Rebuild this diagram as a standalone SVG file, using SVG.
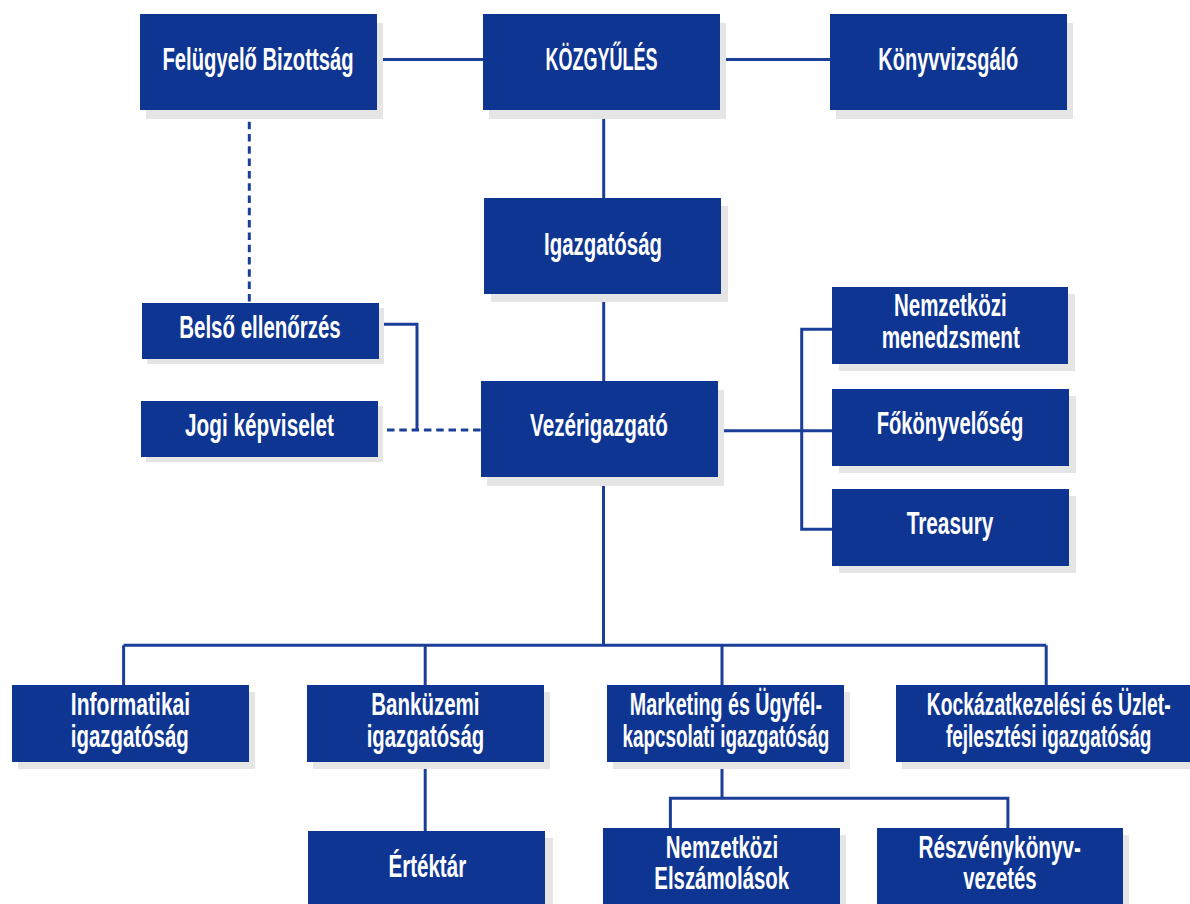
<svg xmlns="http://www.w3.org/2000/svg" width="1190" height="904" viewBox="0 0 1190 904">
<style>
.box{fill:#0e3591}
.sh{fill:#e5e5e5}
.t{font-family:"Liberation Sans Narrow","Liberation Sans","DejaVu Sans Condensed",sans-serif;font-weight:bold;font-size:31px;fill:#ffffff;text-anchor:middle}
.ln{fill:none;stroke:#1b3f98;stroke-width:3}
.dash{stroke-dasharray:7.5 4.8}
</style>
<rect width="1190" height="904" fill="#ffffff"/>
<g id="connectors">
<line class="ln" x1="377" y1="59.5" x2="483" y2="59.5"/>
<line class="ln" x1="720" y1="59.5" x2="830" y2="59.5"/>
<line class="ln" x1="603.7" y1="110" x2="603.7" y2="198"/>
<line class="ln" x1="603.7" y1="294" x2="603.7" y2="381"/>
<line class="ln dash" x1="249.3" y1="121.7" x2="249.3" y2="303"/>
<polyline class="ln" points="379,324.3 417,324.3 417,430"/>
<line class="ln dash" x1="387" y1="430" x2="481" y2="430"/>
<line class="ln" x1="718" y1="430.7" x2="832" y2="430.7"/>
<polyline class="ln" points="832,329.3 801.7,329.3 801.7,529.3 832,529.3"/>
<line class="ln" x1="603.5" y1="477" x2="603.5" y2="645.3"/>
<line class="ln" x1="123.6" y1="645.3" x2="1046.2" y2="645.3"/>
<line class="ln" x1="123.6" y1="645.3" x2="123.6" y2="685"/>
<line class="ln" x1="425.2" y1="645.3" x2="425.2" y2="685"/>
<line class="ln" x1="722" y1="645.3" x2="722" y2="685"/>
<line class="ln" x1="1046.2" y1="645.3" x2="1046.2" y2="685"/>
<line class="ln" x1="425.2" y1="762" x2="425.2" y2="831"/>
<line class="ln" x1="722" y1="762" x2="722" y2="798.3"/>
<polyline class="ln" points="670.4,828 670.4,798.3 1007.9,798.3 1007.9,828"/>
</g>
<g id="felugyelo-bizottsag">
<rect class="sh" x="146" y="23" width="237" height="96"/>
<rect class="box" x="140" y="14" width="237" height="96"/>
<text class="t" x="258" y="70" textLength="191" lengthAdjust="spacingAndGlyphs">Felügyelő Bizottság</text>
</g>
<g id="kozgyules">
<rect class="sh" x="489" y="23" width="237" height="96"/>
<rect class="box" x="483" y="14" width="237" height="96"/>
<text class="t" x="601.5" y="70" textLength="112" lengthAdjust="spacingAndGlyphs">KÖZGYŰLÉS</text>
</g>
<g id="konyvvizsgalo">
<rect class="sh" x="836" y="23" width="237" height="96"/>
<rect class="box" x="830" y="14" width="237" height="96"/>
<text class="t" x="948.3" y="70" textLength="140" lengthAdjust="spacingAndGlyphs">Könyvvizsgáló</text>
</g>
<g id="igazgatosag">
<rect class="sh" x="491" y="206" width="237" height="96"/>
<rect class="box" x="484" y="198" width="237" height="96"/>
<text class="t" x="603" y="255" textLength="118" lengthAdjust="spacingAndGlyphs">Igazgatóság</text>
</g>
<g id="vezerigazgato">
<rect class="sh" x="487" y="390" width="237" height="96"/>
<rect class="box" x="481" y="381" width="237" height="96"/>
<text class="t" x="599" y="436" textLength="138" lengthAdjust="spacingAndGlyphs">Vezérigazgató</text>
</g>
<g id="belso-ellenorzes">
<rect class="sh" x="147" y="308" width="237" height="56"/>
<rect class="box" x="142" y="303" width="237" height="56"/>
<text class="t" x="260" y="338" textLength="161.5" lengthAdjust="spacingAndGlyphs">Belső ellenőrzés</text>
</g>
<g id="jogi-kepviselet">
<rect class="sh" x="146" y="406" width="237" height="56"/>
<rect class="box" x="141" y="401" width="237" height="56"/>
<text class="t" x="259.5" y="436" textLength="149" lengthAdjust="spacingAndGlyphs">Jogi képviselet</text>
</g>
<g id="nemzetkozi-menedzsment">
<rect class="sh" x="839" y="294" width="236" height="77"/>
<rect class="box" x="832" y="287" width="236" height="77"/>
<text class="t" x="950.3" y="316" textLength="112.7" lengthAdjust="spacingAndGlyphs">Nemzetközi</text>
<text class="t" x="950.8" y="348.3" textLength="138.3" lengthAdjust="spacingAndGlyphs">menedzsment</text>
</g>
<g id="fokonyveloseg">
<rect class="sh" x="839" y="396" width="237" height="77"/>
<rect class="box" x="832" y="389" width="237" height="77"/>
<text class="t" x="950" y="434.3" textLength="146.7" lengthAdjust="spacingAndGlyphs">Főkönyvelőség</text>
</g>
<g id="treasury">
<rect class="sh" x="839" y="496" width="237" height="77"/>
<rect class="box" x="832" y="489" width="237" height="77"/>
<text class="t" x="950" y="534.3" textLength="86.7" lengthAdjust="spacingAndGlyphs">Treasury</text>
</g>
<g id="informatikai">
<rect class="sh" x="18" y="692" width="237" height="77"/>
<rect class="box" x="12" y="685" width="237" height="77"/>
<text class="t" x="130.5" y="715" textLength="119.4" lengthAdjust="spacingAndGlyphs">Informatikai</text>
<text class="t" x="129.8" y="746.7" textLength="117.9" lengthAdjust="spacingAndGlyphs">igazgatóság</text>
</g>
<g id="bankuzemi">
<rect class="sh" x="313" y="692" width="237" height="77"/>
<rect class="box" x="307" y="685" width="237" height="77"/>
<text class="t" x="425.4" y="715" textLength="108.3" lengthAdjust="spacingAndGlyphs">Banküzemi</text>
<text class="t" x="425.4" y="746.7" textLength="117.5" lengthAdjust="spacingAndGlyphs">igazgatóság</text>
</g>
<g id="marketing">
<rect class="sh" x="613" y="692" width="237" height="77"/>
<rect class="box" x="607" y="685" width="237" height="77"/>
<text class="t" x="725.9" y="715" textLength="192.1" lengthAdjust="spacingAndGlyphs">Marketing és Ügyfél-</text>
<text class="t" x="725.9" y="746.7" textLength="206.7" lengthAdjust="spacingAndGlyphs">kapcsolati igazgatóság</text>
</g>
<g id="kockazatkezelesi">
<rect class="sh" x="902" y="692" width="288" height="77"/>
<rect class="box" x="896" y="685" width="294" height="77"/>
<text class="t" transform="translate(1048.7 715) scale(0.6 1)" x="0" y="0" textLength="406.3" lengthAdjust="spacingAndGlyphs">Kockázatkezelési és Üzlet-</text>
<text class="t" transform="translate(1048.7 746.7) scale(0.6 1)" x="0" y="0" textLength="342.5" lengthAdjust="spacingAndGlyphs">fejlesztési igazgatóság</text>
</g>
<g id="ertektar">
<rect class="sh" x="316" y="838" width="237" height="66"/>
<rect class="box" x="308" y="831" width="237" height="73"/>
<text class="t" x="427.3" y="876.7" textLength="77.7" lengthAdjust="spacingAndGlyphs">Értéktár</text>
</g>
<g id="nemzetkozi-elszamolasok">
<rect class="sh" x="609" y="835" width="237" height="69"/>
<rect class="box" x="603" y="828" width="237" height="76"/>
<text class="t" x="722" y="857.7" textLength="112.5" lengthAdjust="spacingAndGlyphs">Nemzetközi</text>
<text class="t" x="721.7" y="889.3" textLength="134.7" lengthAdjust="spacingAndGlyphs">Elszámolások</text>
</g>
<g id="reszvenykonyv-vezetes">
<rect class="sh" x="883" y="835" width="246" height="69"/>
<rect class="box" x="877" y="828" width="246" height="76"/>
<text class="t" x="999.7" y="857.7" textLength="162.6" lengthAdjust="spacingAndGlyphs">Részvénykönyv-</text>
<text class="t" x="999.9" y="889.3" textLength="73.5" lengthAdjust="spacingAndGlyphs">vezetés</text>
</g>
</svg>
